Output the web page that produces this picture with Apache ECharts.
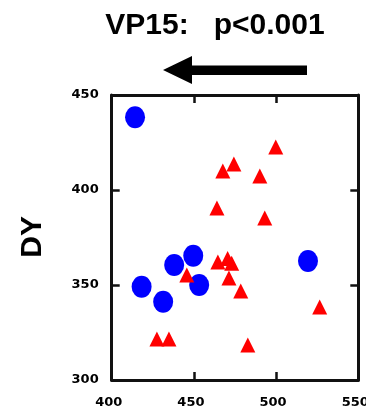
<!DOCTYPE html>
<html>
<head>
<meta charset="utf-8">
<script src="https://cdn.jsdelivr.net/npm/echarts@6/dist/echarts.min.js"></script>
<style>html,body{margin:0;padding:0;background:#fff;}#c{width:366px;height:410px;}</style>
</head>
<body>
<div id="c"></div>
<script>
var titleText = 'VP15:   p<0.001';
var yName = 'DY';
var xTicks = [400, 450, 500, 550];
var yTicks = [300, 350, 400, 450];
var blueX = [414.2, 418.2, 431.3, 438.0, 449.6, 453.2, 519.4];
var blueY = [438.3, 349.1, 341.2, 360.5, 365.4, 350.0, 362.6];
var redX = [467.6, 474.3, 464.0, 499.8, 490.1, 493.1, 445.7, 427.5, 434.8, 464.6, 470.5, 473.0, 471.3, 478.5, 526.5, 482.8];
var redY = [410.0, 413.7, 390.5, 422.6, 407.4, 385.3, 355.3, 321.6, 321.6, 362.1, 364.0, 361.5, 353.7, 346.8, 338.4, 318.4];

function pairs(xs, ys) { return xs.map(function (x, i) { return [x, ys[i]]; }); }

var chart = echarts.init(document.getElementById('c'), null, {renderer: 'canvas'});
var axisLineStyle = {color: '#111', width: 3};
var tickStyle = {color: '#111', width: 2.5};
var labelStyle = {fontFamily: 'DejaVu Sans', fontWeight: 'bold', fontSize: 13, color: '#000'};
function xAx(pos, showLabel) {
  return {
    type: 'value', position: pos, min: xTicks[0], max: xTicks[xTicks.length - 1], interval: 50,
    axisLine: {show: true, onZero: false, lineStyle: axisLineStyle},
    axisTick: {show: true, inside: true, length: 8, lineStyle: tickStyle},
    axisLabel: Object.assign({show: showLabel, margin: 16, padding: [0, 6, 0, 0]}, labelStyle),
    splitLine: {show: false}
  };
}
function yAx(pos, showLabel) {
  return {
    type: 'value', position: pos, min: yTicks[0], max: yTicks[yTicks.length - 1], interval: 50,
    axisLine: {show: true, onZero: false, lineStyle: axisLineStyle},
    axisTick: {show: true, inside: true, length: 8, lineStyle: tickStyle},
    axisLabel: Object.assign({show: showLabel, margin: 13, padding: [0, 0, 8, 0]}, labelStyle),
    splitLine: {show: false}
  };
}
chart.setOption({
  animation: false,
  backgroundColor: '#fff',
  title: {
    text: titleText, left: 210, top: 6, textAlign: 'center',
    textStyle: {fontFamily: 'Liberation Sans', fontWeight: 'bold', fontSize: 30, color: '#000'}
  },
  grid: {left: 111.7, right: 7.7, top: 95, bottom: 30, containLabel: false, outerBoundsMode: 'none'},
  xAxis: [xAx('bottom', true), xAx('top', false)],
  yAxis: [yAx('left', true), yAx('right', false)],
  graphic: [
    {type: 'polygon', shape: {points: [[163, 70], [192, 56], [192, 65.5], [307, 65.5], [307, 75], [192, 75], [192, 84]]},
     style: {fill: '#000'}},
    {type: 'text', left: 18, top: 216, rotation: Math.PI / 2,
     style: {text: yName, fontFamily: 'Liberation Sans', fontWeight: 'bold', fontSize: 30, fill: '#000'}}
  ],
  series: [
    {type: 'scatter', data: pairs(blueX, blueY), symbol: 'circle', symbolSize: [20, 22],
     itemStyle: {color: '#0000ff', opacity: 1}},
    {type: 'scatter', data: pairs(redX, redY), symbol: 'triangle', symbolSize: 15,
     itemStyle: {color: '#ff0000', opacity: 1}}
  ]
});
</script>
</body>
</html>
